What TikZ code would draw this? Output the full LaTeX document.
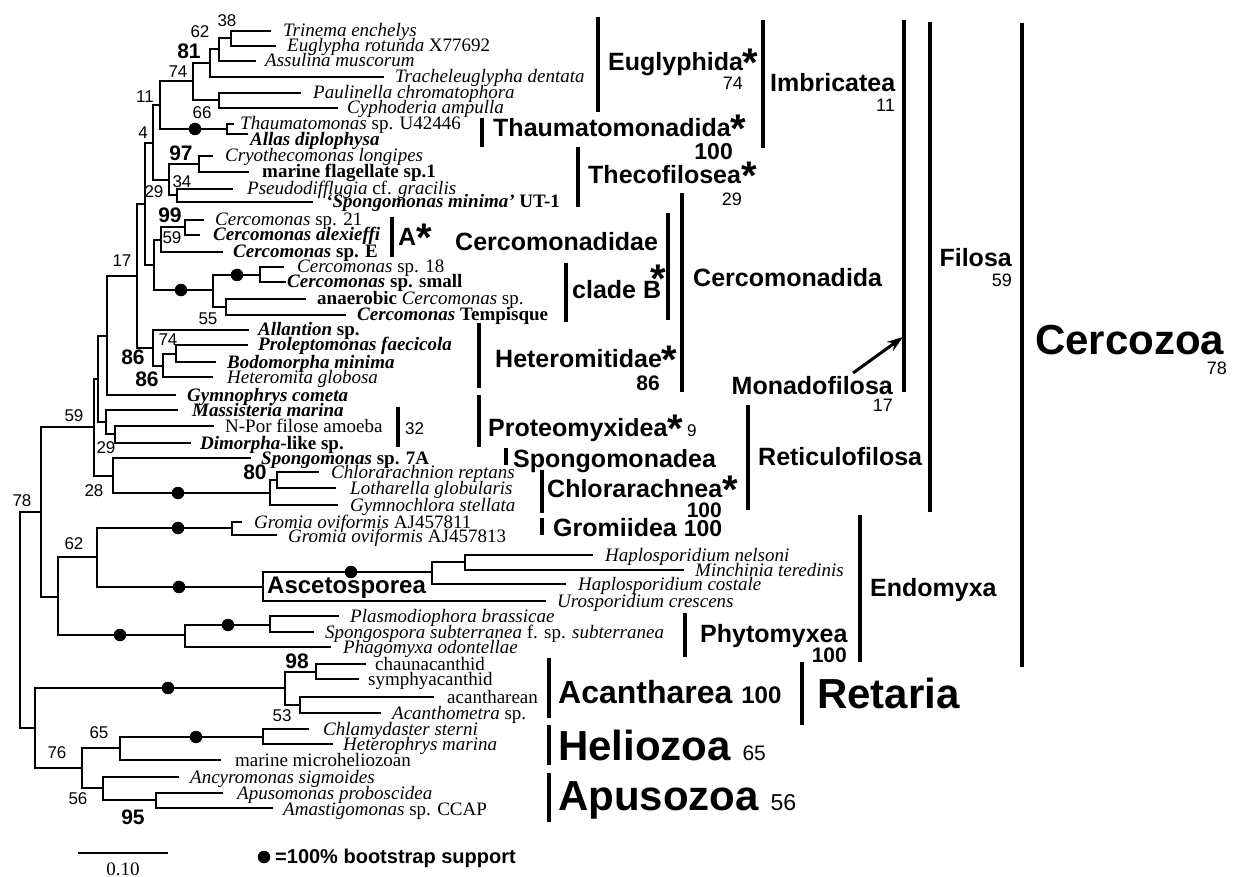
\documentclass[tikz,border=0pt]{standalone}
\usepackage{fontspec}
\setmainfont{Liberation Serif}
\setsansfont{Liberation Sans}
\usetikzlibrary{arrows.meta}
\newcommand\fsz[1]{\fontsize{#1}{#1}\selectfont}
\newcommand\gstar{\raisebox{-6pt}{\fsz{40}*}}
\begin{document}
\begin{tikzpicture}[x=1pt,y=-1pt,
  tr/.style={line width=1.3pt, line cap=rect},
  bar/.style={line width=3.6pt},
  dot/.style={circle, fill=black, inner sep=0pt, minimum size=12.5pt},
  sp/.style={anchor=base west, inner sep=0pt, font=\fsz{19}},
  bs/.style={anchor=base, inner sep=0pt, font=\sffamily\fsz{17}},
  bsb/.style={anchor=base, inner sep=0pt, font=\sffamily\bfseries\fsz{21}},
  grp/.style={anchor=base west, inner sep=0pt, font=\sffamily\bfseries\fsz{25}},
  big/.style={anchor=base west, inner sep=0pt, font=\sffamily\bfseries\fsz{42}},
  num/.style={anchor=base east, inner sep=0pt, font=\sffamily\fsz{18}},
  numb/.style={anchor=base east, inner sep=0pt, font=\sffamily\bfseries\fsz{21}}]
\useasboundingbox (0,0) rectangle (1237,877);

% ---------------- tree branches ----------------
\draw[tr]
 % Euglyphida
 (231,31)--(270,31) (231,46)--(275,46) (231,31)--(231,46) (219,38)--(231,38)
 (219,61)--(255,61) (219,38)--(219,61) (210,49)--(219,49)
 (210,77)--(383,77) (210,49)--(210,77) (193,63)--(210,63)
 (219,93)--(300,93) (219,108)--(337,108) (219,93)--(219,108) (193,100)--(219,100)
 (193,63)--(193,100) (160,81)--(193,81)
 % Thaumatomonadida
 (160,129)--(227,129) (227,124)--(227,134) (227,124)--(233,124) (227,134)--(247,134)
 (160,81)--(160,129) (153,105)--(160,105)
 % Thecofilosea
 (199,156)--(212,156) (199,172)--(248,172) (199,156)--(199,172) (169,164)--(199,164)
 (177,189)--(232,189) (177,202)--(312,202) (177,189)--(177,202) (169,195)--(177,195)
 (169,164)--(169,195) (153,180)--(169,180)
 (153,105)--(153,180) (145,143)--(153,143)
 % Cercomonadidae
 (185,220)--(203,220) (185,235)--(199,235) (185,220)--(185,235) (161,227)--(185,227)
 (161,252)--(222,252) (161,227)--(161,252) (154,240)--(161,240)
 (154,290)--(213,290) (213,275)--(213,307) (213,275)--(260,275) (260,267)--(260,282)
 (260,267)--(283,267) (260,282)--(285,282) (213,307)--(226,307) (226,299)--(226,315)
 (226,299)--(305,299) (226,315)--(345,315)
 (154,240)--(154,290) (145,265)--(154,265)
 (145,143)--(145,265) (137,204)--(145,204)
 % Heteromitidae
 (153,330)--(248,330) (176,345)--(247,345) (176,362)--(215,362) (176,345)--(176,362)
 (163,354)--(176,354) (163,377)--(212,377) (163,354)--(163,377) (153,366)--(163,366)
 (153,330)--(153,366) (137,348)--(153,348)
 (137,204)--(137,348) (107,276)--(137,276)
 (107,395)--(175,395) (107,276)--(107,395) (98,336)--(107,336)
 % Proteomyxidea
 (106,410)--(177,410) (115,426)--(213,426) (115,443)--(190,443) (115,426)--(115,443)
 (106,434)--(115,434) (106,410)--(106,434) (98,422)--(106,422)
 (98,336)--(98,422) (94,379)--(98,379)
 % Spongomonadea + Chlorarachnea
 (113,458)--(250,458) (113,493)--(270,493) (270,480)--(270,505) (270,480)--(277,480)
 (277,472)--(277,488) (277,472)--(318,472) (277,488)--(335,488) (270,505)--(337,505)
 (113,458)--(113,493) (94,476)--(113,476)
 (94,379)--(94,476) (41,427)--(94,427)
 % Gromiidea
 (97,528)--(232,528) (232,522)--(232,535) (232,522)--(241,522) (232,535)--(276,535)
 % Ascetosporea
 (97,587)--(263,587) (263,572)--(263,601) (263,572)--(432,572) (432,562)--(432,584)
 (432,562)--(465,562) (465,555)--(465,570) (465,555)--(592,555) (465,570)--(683,570)
 (432,584)--(565,584) (263,601)--(545,601)
 (97,528)--(97,587) (58,557)--(97,557)
 % Phytomyxea
 (58,635)--(185,635) (185,625)--(185,647) (185,625)--(270,625) (270,616)--(270,632)
 (270,616)--(338,616) (270,632)--(313,632) (185,647)--(330,647)
 (58,557)--(58,635) (41,597)--(58,597)
 (41,427)--(41,597) (20,512)--(41,512)
 % Acantharea
 (35,688)--(285,688) (285,672)--(285,705) (285,672)--(316,672) (316,664)--(316,679)
 (316,664)--(365,664) (316,679)--(358,679) (285,705)--(300,705) (300,697)--(300,713)
 (300,697)--(433,697) (300,713)--(380,713)
 % Heliozoa
 (120,737)--(263,737) (263,729)--(263,744) (263,729)--(308,729) (263,744)--(332,744)
 (120,760)--(220,760) (120,737)--(120,760) (82,748)--(120,748)
 % Apusozoa
 (103,777)--(178,777) (103,800)--(156,800) (156,793)--(156,808) (156,793)--(222,793)
 (156,808)--(272,808) (103,777)--(103,800) (82,788)--(103,788)
 (82,748)--(82,788) (35,768)--(82,768)
 (35,688)--(35,768) (20,728)--(35,728)
 (20,512)--(20,728);

% ---------------- 100% dots ----------------
\node[dot] (d1) at (195,129) {};
\node[dot] (d2) at (181,290) {};
\node[dot] (d3) at (237,275) {};
\node[dot] (d4) at (178,493) {};
\node[dot] (d5) at (178,528) {};
\node[dot] (d6) at (179,587) {};
\node[dot] (d7) at (351,572) {};
\node[dot] (d8) at (120,635) {};
\node[dot] (d9) at (228,625) {};
\node[dot] (d10) at (168,688) {};
\node[dot] (d11) at (196,737) {};

% ---------------- leaf names ----------------
\node[sp] (l1) at (283,37) {\textit{Trinema enchelys}};
\node[sp] (l2) at (287,52) {\textit{Euglypha rotunda} X77692};
\node[sp] (l3) at (265,67) {\textit{Assulina muscorum}};
\node[sp] (l4) at (395,83) {\textit{Tracheleuglypha dentata}};
\node[sp] (l5) at (313,99) {\textit{Paulinella chromatophora}};
\node[sp] (l6) at (347,114) {\textit{Cyphoderia ampulla}};
\node[sp] (l7) at (240,130) {\textit{Thaumatomonas} sp. U42446};
\node[sp] (l8) at (250,146) {\textbf{\textit{Allas diplophysa}}};
\node[sp] (l9) at (225,162) {\textit{Cryothecomonas longipes}};
\node[sp] (l10) at (262,178) {\textbf{marine flagellate sp.1}};
\node[sp] (l11) at (247,195) {\textit{Pseudodifflugia} cf. \textit{gracilis}};
\node[sp] (l12) at (326,208) {\textbf{\textit{`Spongomonas minima'} UT-1}};
\node[sp] (l13) at (215,226) {\textit{Cercomonas} sp. 21};
\node[sp] (l14) at (213,241) {\textbf{\textit{Cercomonas alexieffi}}};
\node[sp] (l15) at (233,258) {\textbf{\textit{Cercomonas} sp. E}};
\node[sp] (l16) at (297,273) {\textit{Cercomonas} sp. 18};
\node[sp] (l17) at (287,288) {\textbf{\textit{Cercomonas} sp. small}};
\node[sp] (l18) at (317,305) {\textbf{anaerobic} \textit{Cercomonas} sp.};
\node[sp] (l19) at (357,321) {\textbf{\textit{Cercomonas} Tempisque}};
\node[sp] (l20) at (258,336) {\textbf{\textit{Allantion} sp.}};
\node[sp] (l21) at (258,351) {\textbf{\textit{Proleptomonas faecicola}}};
\node[sp] (l22) at (227,368) {\textbf{\textit{Bodomorpha minima}}};
\node[sp] (l23) at (227,383) {\textit{Heteromita globosa}};
\node[sp] (l24) at (187,401) {\textbf{\textit{Gymnophrys cometa}}};
\node[sp] (l25) at (192,416) {\textbf{\textit{Massisteria marina}}};
\node[sp] (l26) at (225,432) {N-Por filose amoeba};
\node[sp] (l27) at (200,449) {\textbf{\textit{Dimorpha}-like sp.}};
\node[sp] (l28) at (261,464) {\textbf{\textit{Spongomonas} sp. 7A}};
\node[sp] (l29) at (331,478) {\textit{Chlorarachnion reptans}};
\node[sp] (l30) at (350,494) {\textit{Lotharella globularis}};
\node[sp] (l31) at (350,511) {\textit{Gymnochlora stellata}};
\node[sp] (l32) at (254,528) {\textit{Gromia oviformis} AJ457811};
\node[sp] (l33) at (288,542) {\textit{Gromia oviformis} AJ457813};
\node[sp] (l34) at (605,561) {\textit{Haplosporidium nelsoni}};
\node[sp] (l35) at (695,576) {\textit{Minchinia teredinis}};
\node[sp] (l36) at (578,590) {\textit{Haplosporidium costale}};
\node[sp] (l37) at (557,607) {\textit{Urosporidium crescens}};
\node[sp] (l38) at (350,622) {\textit{Plasmodiophora brassicae}};
\node[sp] (l39) at (325,638) {\textit{Spongospora subterranea} f. sp. \textit{subterranea}};
\node[sp] (l40) at (343,653) {\textit{Phagomyxa odontellae}};
\node[sp] (l41) at (375,670) {chaunacanthid};
\node[sp] (l42) at (368,685) {symphyacanthid};
\node[sp] (l43) at (447,703) {acantharean};
\node[sp] (l44) at (392,719) {\textit{Acanthometra} sp.};
\node[sp] (l45) at (323,735) {\textit{Chlamydaster sterni}};
\node[sp] (l46) at (343,750) {\textit{Heterophrys marina}};
\node[sp] (l47) at (235,766) {marine microheliozoan};
\node[sp] (l48) at (190,783) {\textit{Ancyromonas sigmoides}};
\node[sp] (l49) at (237,799) {\textit{Apusomonas proboscidea}};
\node[sp] (l50) at (283,815) {\textit{Amastigomonas} sp. CCAP};

% ---------------- bootstrap values ----------------
\node[bs]  (b1) at (227,27) {38};
\node[bs]  (b2) at (200,38) {62};
\node[bsb] (b3) at (189,58.5) {81};
\node[bs]  (b4) at (178,78) {74};
\node[bs]  (b5) at (145,103) {11};
\node[bs]  (b6) at (202,119) {66};
\node[bs]  (b7) at (143,139) {4};
\node[bsb] (b8) at (181,160.5) {97};
\node[bs]  (b9) at (182,188) {34};
\node[bs]  (b10) at (154,198) {29};
\node[bsb] (b11) at (170,222.5) {99};
\node[bs]  (b12) at (172,244) {59};
\node[bs]  (b13) at (122,267) {17};
\node[bs]  (b14) at (208,325) {55};
\node[bs]  (b15) at (168,345) {74};
\node[bsb] (b16) at (133,364.5) {86};
\node[bsb] (b17) at (147,386.5) {86};
\node[bs]  (b18) at (74,421) {59};
\node[bs]  (b19) at (106,453) {29};
\node[bsb] (b20) at (255,479.5) {80};
\node[bs]  (b21) at (94,496) {28};
\node[bs]  (b22) at (22,506) {78};
\node[bs]  (b23) at (74,549) {62};
\node[bsb] (b24) at (297,668.5) {98};
\node[bs]  (b25) at (282,721) {53};
\node[bs]  (b26) at (99,738) {65};
\node[bs]  (b27) at (57,758) {76};
\node[bs]  (b28) at (78,804) {56};
\node[bsb] (b29) at (133,824.5) {95};

% ---------------- group bars ----------------
\draw[bar] (598,17)--(598,112);
\draw[bar] (482,118)--(482,147);
\draw[bar] (763,20)--(763,148);
\draw[bar] (578,147)--(578,207);
\draw[bar] (392,217)--(392,257);
\draw[bar] (668,213)--(668,320);
\draw[bar] (566,263)--(566,322);
\draw[bar] (682,193)--(682,392);
\draw[bar] (479,323)--(479,388);
\draw[bar] (904,20)--(904,392);
\draw[bar] (930,22)--(930,512);
\draw[bar] (1022,23)--(1022,667);
\draw[bar] (398,407)--(398,447);
\draw[bar] (479,395)--(479,447);
\draw[bar] (506,448)--(506,465);
\draw[bar] (542,470)--(542,513);
\draw[bar] (542,518)--(542,535);
\draw[bar] (748,405)--(748,510);
\draw[bar] (860,515)--(860,662);
\draw[bar] (685,613)--(685,657);
\draw[bar] (549,658)--(549,718);
\draw[bar] (802,662)--(802,725);
\draw[bar] (549,725)--(549,765);
\draw[bar] (549,773)--(549,822);

% ---------------- group labels ----------------
\node[grp] (g1) at (608,71) {Euglyphida\gstar};
\node[num] (n1) at (743,89.5) {74};
\node[grp] (g2) at (493,137) {Thaumatomonadida\gstar};
\node[numb,font=\sffamily\bfseries\fsz{23}] (n2) at (733,160) {100};
\node[grp] (g3) at (770,92) {Imbricatea};
\node[num] (n3) at (895,111.5) {11};
\node[grp] (g4) at (588,184) {Thecofilosea\gstar};
\node[num] (n4) at (742,205.5) {29};
\node[grp] (g5) at (398,246) {A\gstar};
\node[grp] (g6) at (455,251) {Cercomonadidae};
\node[grp] (g7) at (572,299) {clade B};
\node[anchor=center, inner sep=0pt, font=\sffamily\bfseries\fsz{40}] (g7s) at (658,279) {*};
\node[grp] (g8) at (693,287) {Cercomonadida};
\node[grp] (g9) at (495,367) {Heteromitidae\gstar};
\node[numb] (n9) at (660,390.5) {86};
\node[grp,anchor=base east] (g10) at (893,394) {Monadofilosa};
\node[num] (n10) at (893,411.5) {17};
\coordinate (arrs) at (853,373);
\coordinate (arre) at (903,337);
\draw[line width=3pt, -{Stealth[length=16pt,width=11pt]}] (arrs) -- (arre);
\node[grp,anchor=base east] (g11) at (1012,267) {Filosa};
\node[num] (n11) at (1012,286.5) {59};
\node[big] (g12) at (1035,355) {Cercozoa};
\node[num] (n12) at (1227,374.5) {78};
\node[bs,anchor=base west] (g13) at (405,434) {32};
\node[grp] (g14) at (488,436) {Proteomyxidea\gstar\,{\mdseries\fsz{17}9}};
\node[grp] (g15) at (513,467) {Spongomonadea};
\node[grp] (g16) at (547,497) {Chlorarachnea\gstar};
\node[numb] (n16) at (722,517.5) {100};
\node[grp] (g17) at (553,536) {Gromiidea {\fsz{23}100}};
\node[grp] (g18) at (758,465) {Reticulofilosa};
\node[grp] (g19) at (870,596) {Endomyxa};
\node[grp] (g20) at (700,642) {Phytomyxea};
\node[numb] (n20) at (847,662.5) {100};
\node[grp,font=\sffamily\bfseries\fsz{32}] (g21) at (558,703.5) {Acantharea {\fsz{24}100}};
\node[big] (g22) at (817,708) {Retaria};
\node[big] (g23) at (558,760) {Heliozoa {\mdseries\fsz{21}65}};
\node[big] (g24) at (558,810) {Apusozoa {\mdseries\fsz{23}56}};
\node[grp,font=\sffamily\bfseries\fsz{24}] (g25) at (267,593.5) {Ascetosporea};

% ---------------- scale bar and legend ----------------
\coordinate (sb1) at (78,853);
\coordinate (sb2) at (168,853);
\draw[line width=1.3pt] (sb1) -- (sb2);
\node[anchor=base, inner sep=0pt, font=\fsz{19}] (sbl) at (123,875) {0.10};
\node[dot] (ld) at (264,857) {};
\node[anchor=base west, inner sep=0pt, font=\sffamily\bfseries\fsz{20}] (lt) at (275,863) {=100\% bootstrap support};
\end{tikzpicture}
\end{document}
